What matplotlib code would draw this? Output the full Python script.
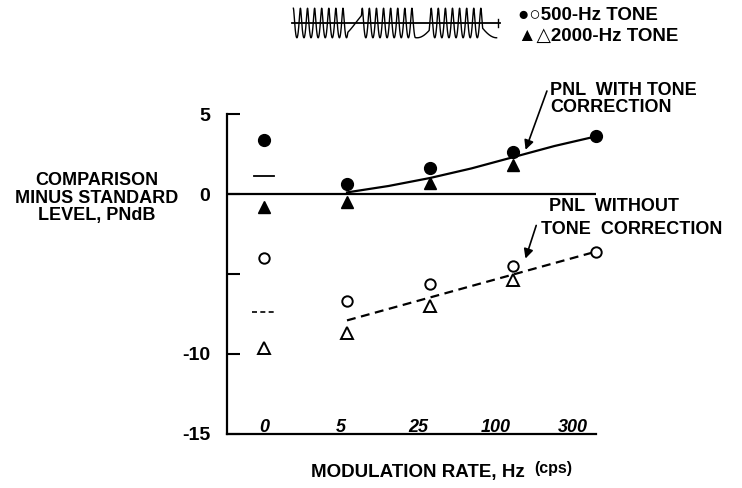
import numpy as np
import matplotlib.pyplot as plt

plt.rcParams['font.family'] = ['Liberation Sans', 'DejaVu Sans']

# modulation rate categories (Hz)
rates = ['0', '5', '25', '100', '300']

# 500-Hz tone
pnl_tone_500 = [3.4, 0.6, 1.6, 2.6, 3.6]        # filled circles
pnl_plain_500 = [-4.0, -6.7, -5.6, -4.5, -3.6]  # open circles
# 2000-Hz tone
pnl_tone_2000 = [-0.8, -0.5, 0.7, 1.8]          # filled triangles
pnl_plain_2000 = [-9.6, -8.7, -7.0, -5.4]       # open triangles

# fitted curves
fit_tone_x = [1.0, 1.5, 2.0, 2.5, 3.0, 3.5, 4.0]
fit_tone_y = [0.1, 0.5, 1.0, 1.6, 2.3, 3.0, 3.6]
fit_plain_x = [1.0, 4.0]
fit_plain_y = [-7.9, -3.6]

# steady (unmodulated) mean marks at rate 0
mean_tone_0 = 1.1
mean_plain_0 = -7.4

W, H = 742, 488
fig = plt.figure(figsize=(W / 100, H / 100), dpi=100)
ax = fig.add_axes([227 / W, 1 - 434 / H, (596 - 227) / W, (434 - 114) / H])

x5 = np.arange(len(pnl_tone_500))
x4 = np.arange(len(pnl_tone_2000))

ax.axhline(0, color='black', lw=1.6)
ax.plot(fit_tone_x, fit_tone_y, color='black', lw=1.6, clip_on=False)
ax.plot(fit_plain_x, fit_plain_y, color='black', lw=1.6, ls=(0, (4, 2.5)), clip_on=False)

ax.plot([-0.12, 0.12], [mean_tone_0] * 2, color='black', lw=1.3)
ax.plot([-0.14, 0.14], [mean_plain_0] * 2, color='black', lw=1.2, ls=(0, (3, 2)))

ax.plot(x5, pnl_tone_500, 'o', color='black', ms=8.5, clip_on=False)
ax.plot(x5, pnl_plain_500, 'o', mfc='white', mec='black', mew=1.4, ms=7.5, clip_on=False)
ax.plot(x4, pnl_tone_2000, '^', color='black', ms=8.5, clip_on=False)
ax.plot(x4, pnl_plain_2000, '^', mfc='white', mec='black', mew=1.4, ms=8, clip_on=False)

ax.set_xlim(-0.446, 4.0)
ax.set_ylim(-15, 5)
for s in ['top', 'right']:
    ax.spines[s].set_visible(False)
for s in ['left', 'bottom']:
    ax.spines[s].set_linewidth(1.6)

ax.set_xticks([])
ax.set_yticks([5, 0, -5, -10, -15])
ax.set_yticklabels(['5', '0', '', '-10', '-15'], fontsize=14, fontweight='bold')
ax.tick_params(axis='y', direction='in', length=9, width=1.5, pad=12)

for i, r in enumerate(rates):
    ax.text(i * 0.93, -15.1, r, ha='center', va='bottom', fontsize=13,
            style='italic', fontweight='bold')

fig.text(97 / W, 1 - 198 / H, 'COMPARISON\nMINUS STANDARD\nLEVEL, PNdB',
         ha='center', va='center', fontsize=13, fontweight='bold', linespacing=1.05)
fig.text(418 / W, 1 - 472 / H, 'MODULATION RATE, Hz', ha='center', va='center',
         fontsize=13.5, fontweight='bold')
fig.text(534 / W, 1 - 469 / H, '(cps)', ha='left', va='center',
         fontsize=11.5, fontweight='bold')

ax.annotate('', xy=(3.14, 2.6), xytext=(3.42, 6.6),
            arrowprops=dict(arrowstyle='-|>', color='black', lw=1.2, mutation_scale=14),
            annotation_clip=False)
fig.text(550 / W, 1 - 82 / H, 'PNL  WITH TONE\nCORRECTION', ha='left', va='top',
         fontsize=13, fontweight='bold', linespacing=1.0)

ax.annotate('', xy=(3.14, -4.2), xytext=(3.29, -1.8),
            arrowprops=dict(arrowstyle='-|>', color='black', lw=1.2, mutation_scale=14),
            annotation_clip=False)
fig.text(549 / W, 1 - 198 / H, 'PNL  WITHOUT', ha='left', va='top',
         fontsize=13, fontweight='bold')
fig.text(541 / W, 1 - 221 / H, 'TONE  CORRECTION', ha='left', va='top',
         fontsize=13, fontweight='bold')

# legend: modulated-tone sketch and symbol key
wax = fig.add_axes([290 / W, 1 - 40 / H, 212 / W, 34 / H])
t = np.linspace(0, 3, 3000)
seg = t % 1.0
rate = np.where(seg < 0.8, 60.0, 6.0)
phase = np.cumsum(rate) * (t[1] - t[0])
wx = t - 0.006 * np.sin(phase)
wy = np.cos(phase)
wax.plot(wx, wy, color='black', lw=1.0)
wax.plot([-0.02, 3.05], [0, 0], color='black', lw=1.3)
wax.plot([3.02, 3.02], [-0.3, 0.3], color='black', lw=1.0)
wax.set_xlim(-0.05, 3.08)
wax.set_ylim(-1.15, 1.15)
wax.axis('off')

fig.text(518 / W, 1 - 16 / H, '●○500-Hz TONE', ha='left', va='center',
         fontsize=13.5, fontweight='bold')
fig.text(518 / W, 1 - 36 / H, '▲△2000-Hz TONE', ha='left', va='center',
         fontsize=13.5, fontweight='bold')

fig.savefig('out.png', dpi=100)
